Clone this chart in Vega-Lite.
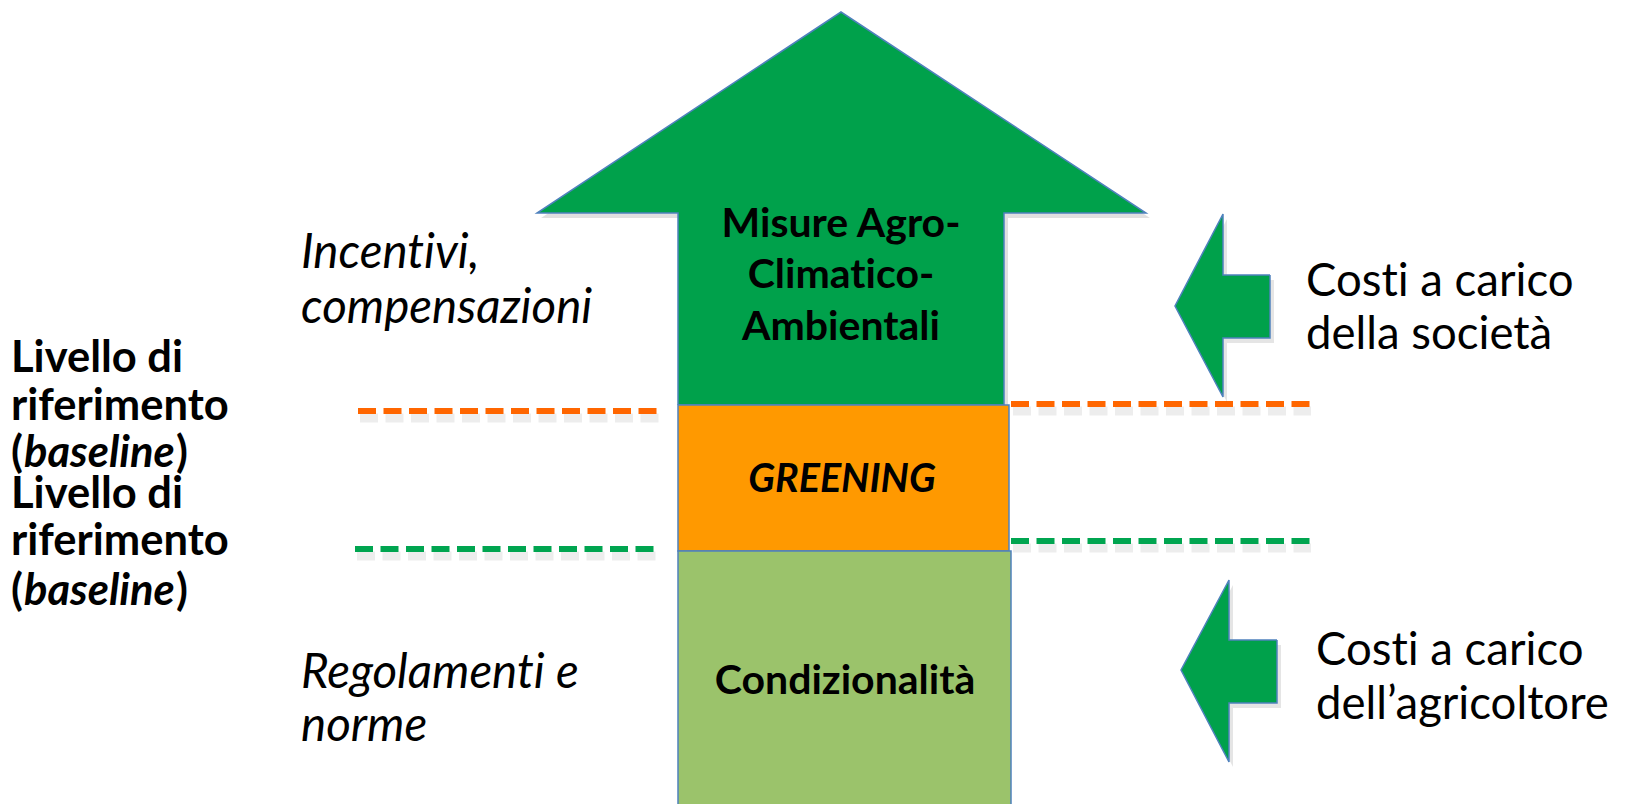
{
  "$schema": "https://vega.github.io/schema/vega-lite/v6.json",
  "width": 1629,
  "height": 804,
  "autosize": {"type": "none"},
  "padding": 0,
  "background": "white",
  "config": {"view": {"stroke": null}, "text": {"font": "Lato"}},
  "datasets": {
    "arrows": [
      {"shape": "big", "i": 0, "x": 678, "y": 405},
      {"shape": "big", "i": 1, "x": 678, "y": 213},
      {"shape": "big", "i": 2, "x": 537, "y": 213},
      {"shape": "big", "i": 3, "x": 841, "y": 12},
      {"shape": "big", "i": 4, "x": 1146, "y": 213},
      {"shape": "big", "i": 5, "x": 1004, "y": 213},
      {"shape": "big", "i": 6, "x": 1004, "y": 405},
      {"shape": "big", "i": 7, "x": 678, "y": 405},
      {"shape": "society", "i": 0, "x": 1270, "y": 275},
      {"shape": "society", "i": 1, "x": 1223, "y": 275},
      {"shape": "society", "i": 2, "x": 1223, "y": 214},
      {"shape": "society", "i": 3, "x": 1175, "y": 306},
      {"shape": "society", "i": 4, "x": 1223, "y": 397},
      {"shape": "society", "i": 5, "x": 1223, "y": 338},
      {"shape": "society", "i": 6, "x": 1270, "y": 338},
      {"shape": "society", "i": 7, "x": 1270, "y": 275},
      {"shape": "farmer", "i": 0, "x": 1277, "y": 640},
      {"shape": "farmer", "i": 1, "x": 1229, "y": 640},
      {"shape": "farmer", "i": 2, "x": 1229, "y": 580},
      {"shape": "farmer", "i": 3, "x": 1181, "y": 670},
      {"shape": "farmer", "i": 4, "x": 1229, "y": 762},
      {"shape": "farmer", "i": 5, "x": 1229, "y": 703},
      {"shape": "farmer", "i": 6, "x": 1277, "y": 703},
      {"shape": "farmer", "i": 7, "x": 1277, "y": 640}
    ],
    "boxes": [
      {"name": "greening", "x": 678, "x2": 1009, "y": 405, "y2": 551},
      {"name": "condizionalita", "x": 678, "x2": 1011, "y": 551, "y2": 806}
    ],
    "dashes": [
      {"level": "upper", "x": 358, "x2": 660, "y": 411},
      {"level": "upper", "x": 1011, "x2": 1311, "y": 404},
      {"level": "lower", "x": 355, "x2": 657, "y": 549},
      {"level": "lower", "x": 1011, "x2": 1311, "y": 541}
    ],
    "boxLabels": [
      {"text": "Misure Agro-", "x": 841, "y": 237},
      {"text": "Climat\u200cico-", "x": 841, "y": 288},
      {"text": "Ambientali", "x": 841, "y": 340},
      {"text": "Condizionalità", "x": 845, "y": 694}
    ],
    "greening": [
      {"text": "GREENING", "x": 842, "y": 492}
    ],
    "italicNotes": [
      {"text": "Incent\u200civi,", "x": 301, "y": 268},
      {"text": "compensazioni", "x": 301, "y": 323},
      {"text": "Regolament\u200ci e", "x": 301, "y": 688},
      {"text": "norme", "x": 301, "y": 741}
    ],
    "costs": [
      {"text": "Cost\u200ci a carico", "x": 1306, "y": 296},
      {"text": "della società", "x": 1306, "y": 349},
      {"text": "Cost\u200ci a carico", "x": 1316, "y": 665},
      {"text": "dell’agricoltore", "x": 1316, "y": 719}
    ],
    "levelBold": [
      {"text": "Livello di", "x": 11, "y": 372},
      {"text": "riferimento", "x": 11, "y": 420},
      {"text": "(", "x": 11, "y": 467},
      {"text": ")", "x": 176, "y": 467},
      {"text": "Livello di", "x": 11, "y": 508},
      {"text": "riferimento", "x": 11, "y": 555},
      {"text": "(", "x": 11, "y": 605},
      {"text": ")", "x": 176, "y": 605}
    ],
    "levelItalic": [
      {"text": "baseline", "x": 24, "y": 467},
      {"text": "baseline", "x": 24, "y": 605}
    ]
  },
  "layer": [
    {
      "data": {"name": "arrows"},
      "transform": [{"filter": "datum.shape === 'big'"}],
      "mark": {"type": "line", "fill": "#000000", "fillOpacity": 0.12, "stroke": null, "xOffset": 4, "yOffset": 5},
      "encoding": {
        "x": {"field": "x", "type": "quantitative", "scale": {"domain": [0, 1629], "nice": false, "zero": false}, "axis": null},
        "y": {"field": "y", "type": "quantitative", "scale": {"domain": [0, 804], "reverse": true, "nice": false, "zero": false}, "axis": null},
        "order": {"field": "i", "type": "quantitative"},
        "detail": {"field": "shape"}
      }
    },
    {
      "data": {"name": "arrows"},
      "transform": [{"filter": "datum.shape === 'big'"}],
      "mark": {"type": "line", "fill": "#00A14B", "stroke": "#4F81BD", "strokeWidth": 1.5, "strokeJoin": "miter"},
      "encoding": {
        "x": {"field": "x", "type": "quantitative"},
        "y": {"field": "y", "type": "quantitative"},
        "order": {"field": "i", "type": "quantitative"},
        "detail": {"field": "shape"}
      }
    },
    {
      "data": {"name": "boxes"},
      "mark": {"type": "rect", "stroke": "#4F81BD", "strokeWidth": 1.5},
      "encoding": {
        "x": {"field": "x", "type": "quantitative"},
        "x2": {"field": "x2"},
        "y": {"field": "y", "type": "quantitative"},
        "y2": {"field": "y2"},
        "fill": {"field": "name", "type": "nominal", "scale": {"domain": ["greening", "condizionalita"], "range": ["#FF9900", "#9BC36B"]}, "legend": null}
      }
    },
    {
      "data": {"name": "dashes"},
      "mark": {"type": "rule", "strokeWidth": 9, "strokeDash": [18, 7.5], "color": "#000000", "opacity": 0.07, "yOffset": 7, "xOffset": 2},
      "encoding": {
        "x": {"field": "x", "type": "quantitative"},
        "x2": {"field": "x2"},
        "y": {"field": "y", "type": "quantitative"}
      }
    },
    {
      "data": {"name": "dashes"},
      "mark": {"type": "rule", "strokeWidth": 6, "strokeDash": [18, 7.5]},
      "encoding": {
        "x": {"field": "x", "type": "quantitative"},
        "x2": {"field": "x2"},
        "y": {"field": "y", "type": "quantitative"},
        "color": {"field": "level", "type": "nominal", "scale": {"domain": ["upper", "lower"], "range": ["#FF6600", "#00A550"]}, "legend": null}
      }
    },
    {
      "data": {"name": "arrows"},
      "transform": [{"filter": "datum.shape !== 'big'"}],
      "mark": {"type": "line", "fill": "#000000", "fillOpacity": 0.1, "stroke": null, "xOffset": 4, "yOffset": 5},
      "encoding": {
        "x": {"field": "x", "type": "quantitative"},
        "y": {"field": "y", "type": "quantitative"},
        "order": {"field": "i", "type": "quantitative"},
        "detail": {"field": "shape"}
      }
    },
    {
      "data": {"name": "arrows"},
      "transform": [{"filter": "datum.shape !== 'big'"}],
      "mark": {"type": "line", "fill": "#00A14B", "stroke": "#4F81BD", "strokeWidth": 1.5, "strokeJoin": "miter"},
      "encoding": {
        "x": {"field": "x", "type": "quantitative"},
        "y": {"field": "y", "type": "quantitative"},
        "order": {"field": "i", "type": "quantitative"},
        "detail": {"field": "shape"}
      }
    },
    {
      "data": {"name": "boxLabels"},
      "mark": {"type": "text", "align": "center", "baseline": "alphabetic", "fontSize": 41, "fontWeight": "bold", "color": "black"},
      "encoding": {
        "x": {"field": "x", "type": "quantitative"},
        "y": {"field": "y", "type": "quantitative"},
        "text": {"field": "text"}
      }
    },
    {
      "data": {"name": "greening"},
      "mark": {"type": "text", "align": "center", "baseline": "alphabetic", "fontSize": 39.5, "fontWeight": "bold", "fontStyle": "italic", "color": "black"},
      "encoding": {
        "x": {"field": "x", "type": "quantitative"},
        "y": {"field": "y", "type": "quantitative"},
        "text": {"field": "text"}
      }
    },
    {
      "data": {"name": "italicNotes"},
      "mark": {"type": "text", "align": "left", "baseline": "alphabetic", "fontSize": 47.5, "fontStyle": "italic", "color": "black"},
      "encoding": {
        "x": {"field": "x", "type": "quantitative"},
        "y": {"field": "y", "type": "quantitative"},
        "text": {"field": "text"}
      }
    },
    {
      "data": {"name": "costs"},
      "mark": {"type": "text", "align": "left", "baseline": "alphabetic", "fontSize": 45.5, "color": "black"},
      "encoding": {
        "x": {"field": "x", "type": "quantitative"},
        "y": {"field": "y", "type": "quantitative"},
        "text": {"field": "text"}
      }
    },
    {
      "data": {"name": "levelBold"},
      "mark": {"type": "text", "align": "left", "baseline": "alphabetic", "fontSize": 43.5, "fontWeight": "bold", "color": "black"},
      "encoding": {
        "x": {"field": "x", "type": "quantitative"},
        "y": {"field": "y", "type": "quantitative"},
        "text": {"field": "text"}
      }
    },
    {
      "data": {"name": "levelItalic"},
      "mark": {"type": "text", "align": "left", "baseline": "alphabetic", "fontSize": 43.5, "fontWeight": "bold", "fontStyle": "italic", "color": "black"},
      "encoding": {
        "x": {"field": "x", "type": "quantitative"},
        "y": {"field": "y", "type": "quantitative"},
        "text": {"field": "text"}
      }
    }
  ]
}
